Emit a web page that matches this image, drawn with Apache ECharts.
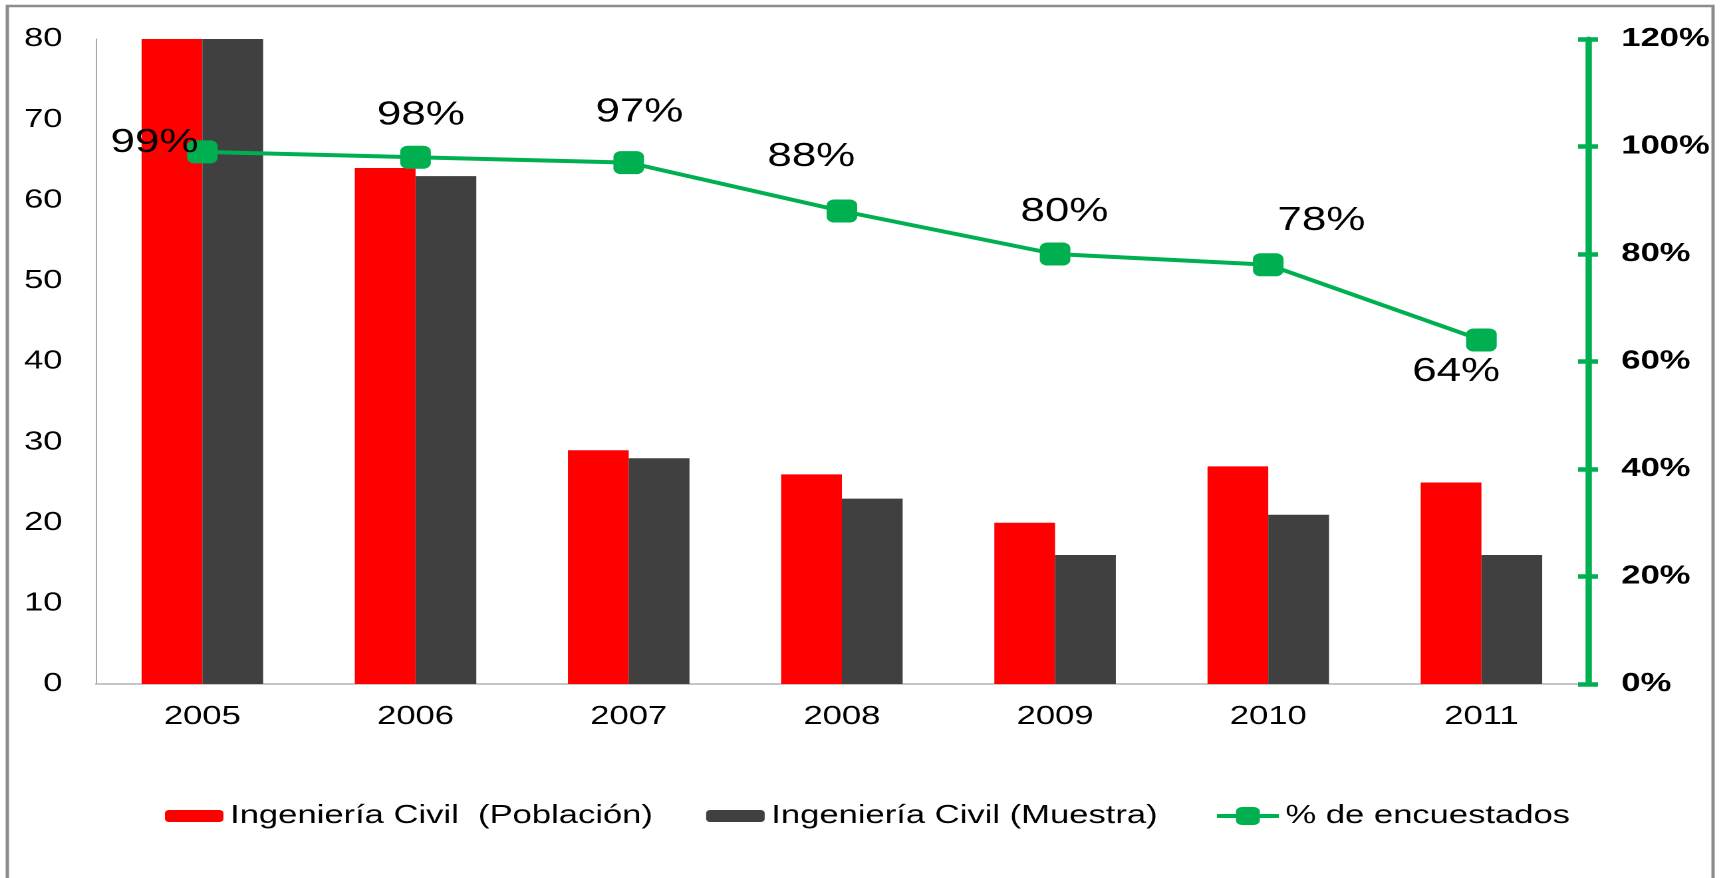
<!DOCTYPE html>
<html>
<head>
<meta charset="utf-8">
<script src="https://cdn.jsdelivr.net/npm/echarts@6/dist/echarts.min.js"></script>
<style>
html,body{margin:0;padding:0;overflow:hidden;background:#fff;width:1721px;height:878px;}
#wrap{width:1294px;height:878px;transform:scaleX(1.33);transform-origin:0 0;}
</style>
</head>
<body>
<div id="wrap"></div>
<script>
// ---- data ----
const categories = ['2005', '2006', '2007', '2008', '2009', '2010', '2011'];
const poblacion = [80, 64, 29, 26, 20, 27, 25];
const muestra = [80, 63, 28, 23, 16, 21, 16];
const encuestados = [99, 98, 97, 88, 80, 78, 64];
const leftTicks = { min: 0, max: 80, interval: 10 };
const rightTicks = { min: 0, max: 120, interval: 20 };
const seriesNames = ['Ingeniería Civil  (Población)', 'Ingeniería Civil (Muestra)', '% de encuestados'];

// ---- style ----
const FONT = 'Liberation Sans, Arial, sans-serif';
const GREEN = '#00B050';
const labelOffsets = [[-36, -9], [4, -42], [8, -50], [-23, -54], [7, -42], [40, -44], [-19, 32]];

const chart = echarts.init(document.getElementById('wrap'), null, { devicePixelRatio: 2 });

const lineData = encuestados.map((v, i) => ({
  value: v,
  label: { position: 'inside', offset: labelOffsets[i] }
}));

const legendText = { fontSize: 26, color: '#000', fontFamily: FONT };

chart.setOption({
  animation: false,
  textStyle: { fontFamily: FONT },
  graphic: [{
    type: 'rect',
    shape: { x: 5.5, y: 6, width: 1282.5, height: 920 },
    style: { fill: 'none', stroke: '#8c8c8c', lineWidth: 2.5 },
    silent: true, z: -1
  }],
  grid: { left: 72, right: 100, top: 39, bottom: 194 },
  legend: [{
    left: 119, top: 798,
    itemWidth: 44, itemHeight: 12, itemGap: 40,
    textStyle: legendText,
    data: [seriesNames[0], seriesNames[1]]
  }, {
    left: 908, top: 798,
    itemWidth: 46.5, itemHeight: 22.5,
    textStyle: legendText,
    lineStyle: { width: 4 },
    data: [seriesNames[2]]
  }],
  xAxis: {
    type: 'category',
    data: categories,
    axisLine: { lineStyle: { color: '#b3b3b3', width: 1.5 } },
    axisTick: { show: false },
    axisLabel: { fontSize: 26, color: '#000', margin: 20, fontFamily: FONT }
  },
  yAxis: [{
    type: 'value',
    min: leftTicks.min, max: leftTicks.max, interval: leftTicks.interval,
    axisLine: { show: true, lineStyle: { color: '#a6a6a6', width: 1 } },
    axisTick: { show: false },
    splitLine: { show: false },
    axisLabel: { fontSize: 26, color: '#000', margin: 25, fontFamily: FONT }
  }, {
    type: 'value', position: 'right',
    min: rightTicks.min, max: rightTicks.max, interval: rightTicks.interval,
    axisLine: { show: true, lineStyle: { color: GREEN, width: 4.5 } },
    axisTick: { show: true, length: 7.5, lineStyle: { color: GREEN, width: 4.5 } },
    splitLine: { show: false },
    axisLabel: { fontSize: 26, color: '#000', fontWeight: 'bold', margin: 25, formatter: '{value}%', fontFamily: FONT }
  }, {
    type: 'value', position: 'right',
    min: rightTicks.min, max: rightTicks.max, interval: rightTicks.interval,
    axisLine: { show: true, lineStyle: { color: GREEN, width: 4.5 } },
    axisTick: { show: true, inside: true, length: 7.5, lineStyle: { color: GREEN, width: 4.5 } },
    splitLine: { show: false },
    axisLabel: { show: false }
  }],
  series: [{
    name: seriesNames[0], type: 'bar', data: poblacion,
    itemStyle: { color: '#FF0000' },
    barGap: '0%', barCategoryGap: '43%'
  }, {
    name: seriesNames[1], type: 'bar', data: muestra,
    itemStyle: { color: '#404040' },
    barGap: '0%', barCategoryGap: '43%'
  }, {
    name: seriesNames[2], type: 'line', yAxisIndex: 1, data: lineData,
    symbol: 'roundRect', symbolSize: 23,
    lineStyle: { color: GREEN, width: 4 },
    itemStyle: { color: GREEN },
    z: 5,
    label: { show: true, formatter: '{c}%', fontSize: 33, color: '#000', fontFamily: FONT }
  }]
});
</script>
</body>
</html>
